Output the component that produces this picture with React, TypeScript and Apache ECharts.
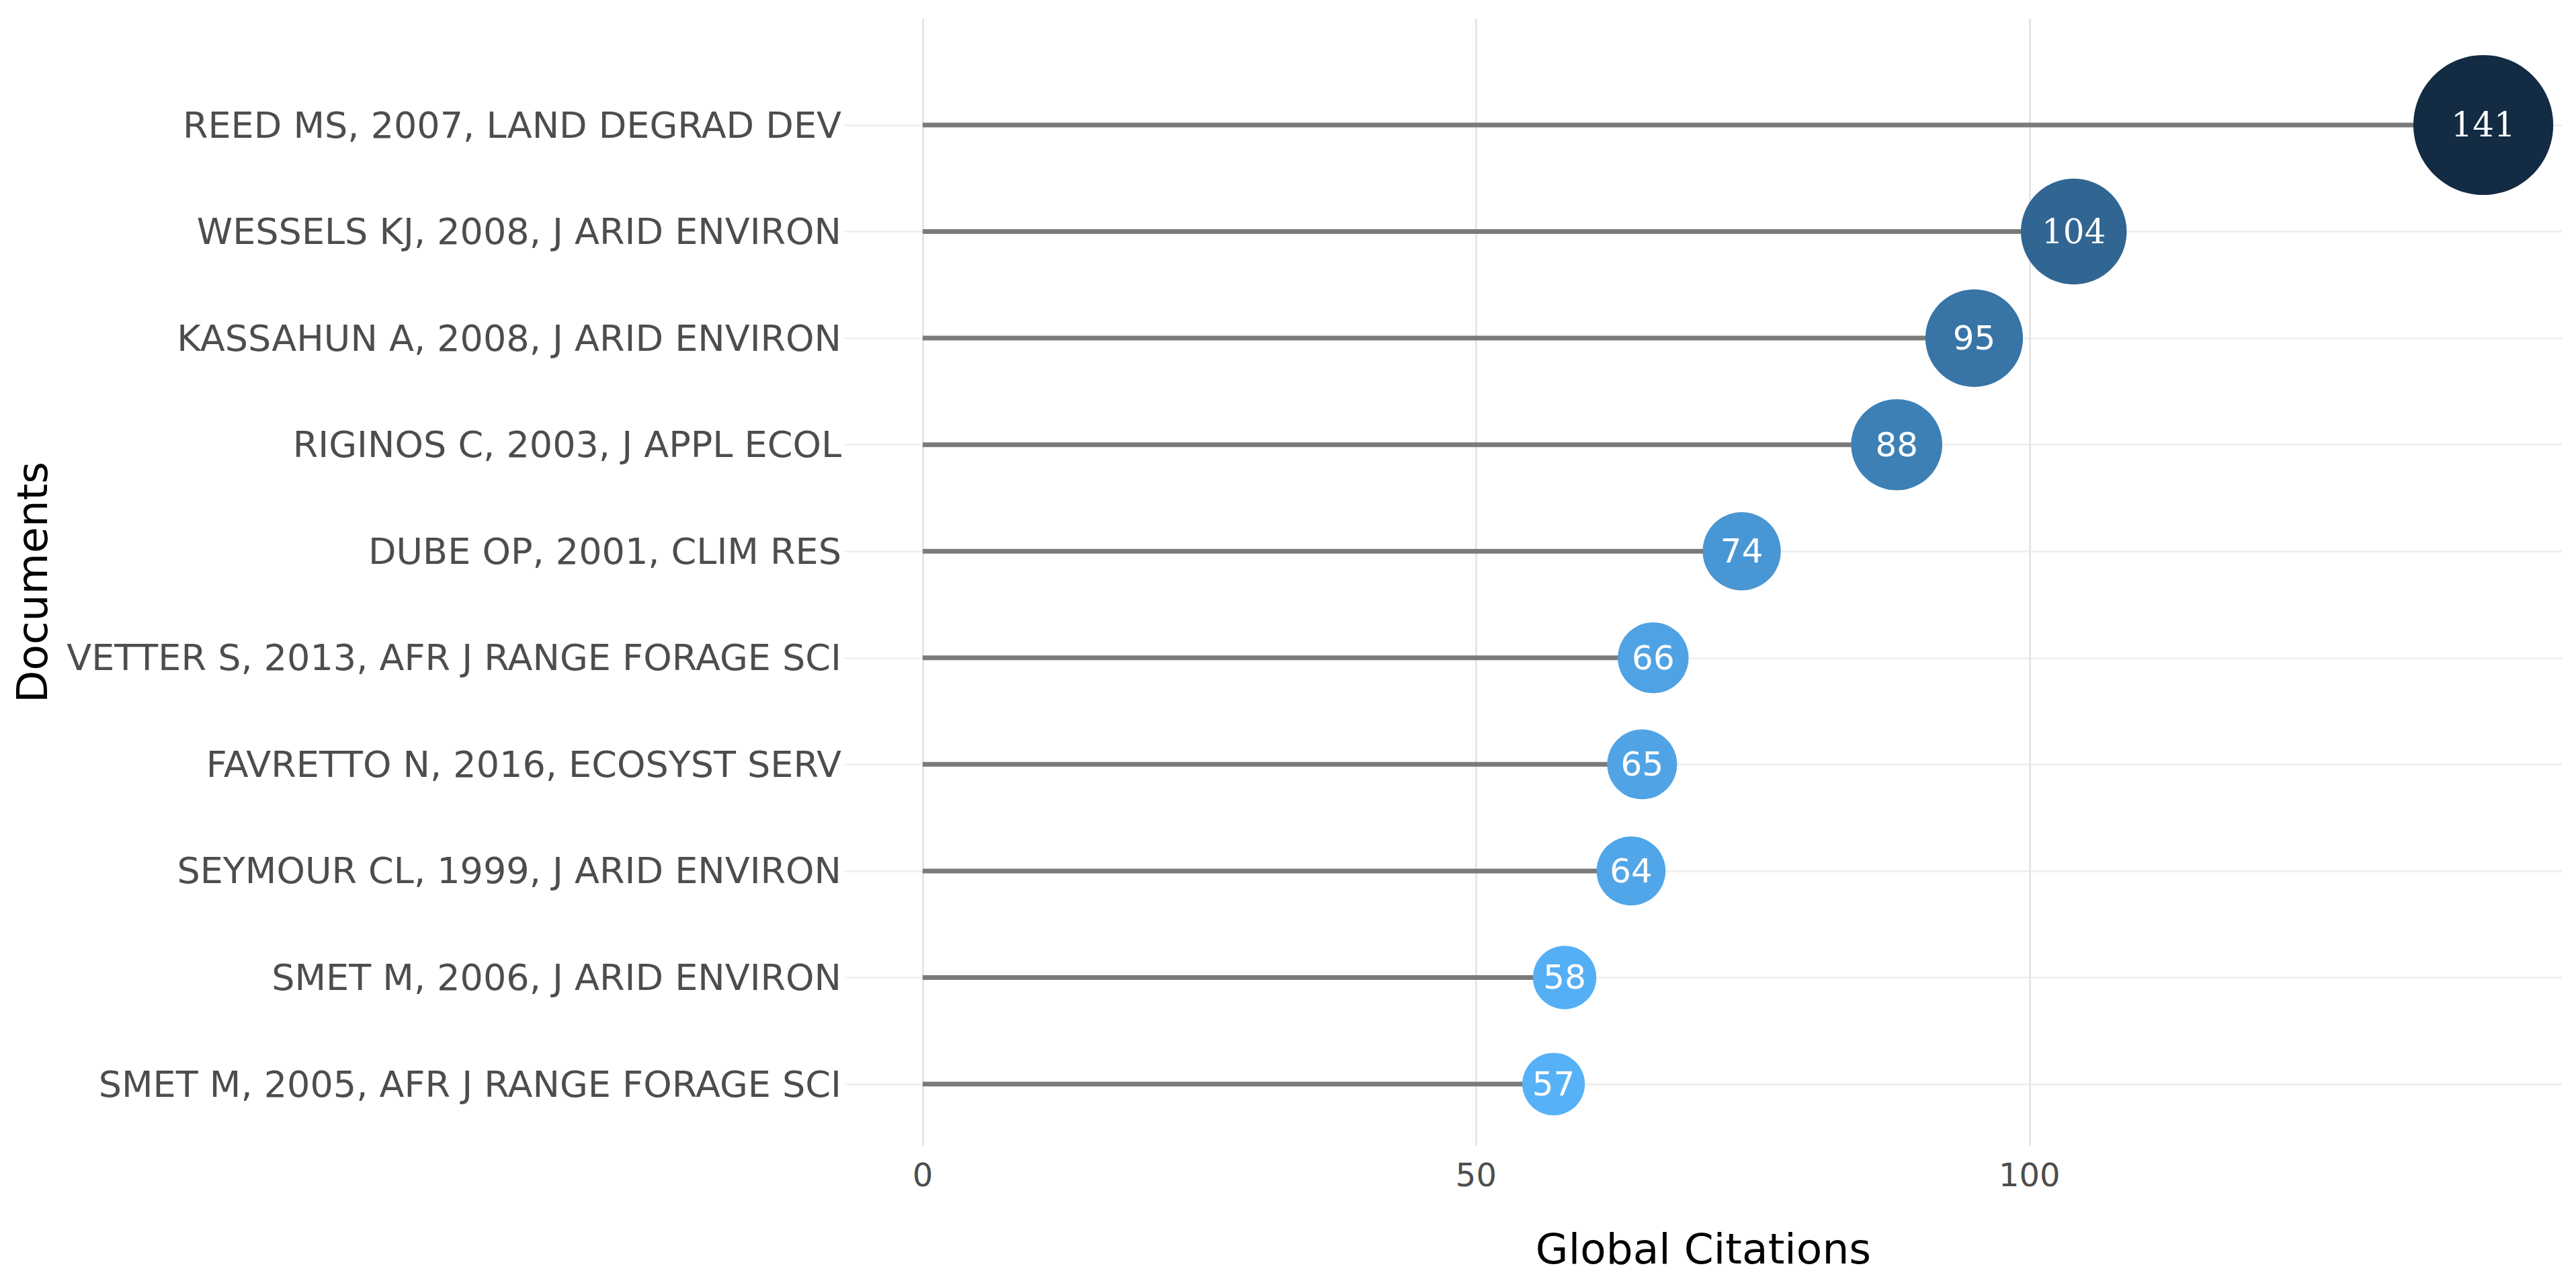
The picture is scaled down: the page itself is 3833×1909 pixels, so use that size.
import React, { useEffect, useRef } from "react";
import * as echarts from "echarts";

const documents: string[] = [
  "REED MS, 2007, LAND DEGRAD DEV",
  "WESSELS KJ, 2008, J ARID ENVIRON",
  "KASSAHUN A, 2008, J ARID ENVIRON",
  "RIGINOS C, 2003, J APPL ECOL",
  "DUBE OP, 2001, CLIM RES",
  "VETTER S, 2013, AFR J RANGE FORAGE SCI",
  "FAVRETTO N, 2016, ECOSYST SERV",
  "SEYMOUR CL, 1999, J ARID ENVIRON",
  "SMET M, 2006, J ARID ENVIRON",
  "SMET M, 2005, AFR J RANGE FORAGE SCI",
];
const citations: number[] = [141, 104, 95, 88, 74, 66, 65, 64, 58, 57];
const xTicks: number[] = [0, 50, 100];
const xTitle = "Global Citations";
const yTitle = "Documents";

const SANS = "DejaVu Sans";
const SERIF = "DejaVu Serif";

export default function App() {
  const ref = useRef<HTMLDivElement>(null);
  useEffect(() => {
    if (!ref.current) return;
    const chart = echarts.init(ref.current, null, { renderer: "svg" });
    const xMin = -7.04;
    const xMax = 148.1;
    const W = 3833;
    const H = 1909;
    const plotLeft = 1257;
    const plotRight = 3812;
    const plotTop = 28;
    const plotBottom = 1705;
    const rowTop = 186;
    const rowBottom = 1613;

    const scatterData = citations.map((v, i) => ({
      value: [v, documents[i]],
      label: { fontFamily: v >= 100 ? SERIF : SANS },
    }));

    chart.setOption({
      animation: false,
      backgroundColor: "#ffffff",
      textStyle: { fontFamily: SANS },
      grid: [
        { left: plotLeft, right: W - plotRight, top: plotTop, bottom: H - plotBottom, containLabel: false },
        { left: plotLeft, right: W - plotRight, top: rowTop, bottom: H - rowBottom, containLabel: false },
      ],
      xAxis: [
        {
          type: "value",
          gridIndex: 0,
          min: xMin,
          max: xMax,
          splitNumber: 3,
          axisLine: { show: false },
          axisTick: { show: false },
          axisLabel: {
            show: true,
            showMinLabel: false,
            showMaxLabel: false,
            margin: 19,
            fontSize: 48,
            color: "#4D4D4D",
            fontFamily: SANS,
            formatter: (v: number) => (xTicks.indexOf(v) >= 0 ? String(v) : ""),
          },
          splitLine: {
            show: true,
            showMinLine: false,
            showMaxLine: false,
            lineStyle: { color: "#E6E6E6", width: 3 },
          },
        },
        {
          type: "value",
          gridIndex: 1,
          min: xMin,
          max: xMax,
          show: false,
          splitLine: { show: false },
        },
      ],
      yAxis: [
        { type: "value", gridIndex: 0, show: false, splitLine: { show: false } },
        {
          type: "category",
          gridIndex: 1,
          data: documents,
          inverse: true,
          boundaryGap: false,
          axisLine: { show: false },
          axisTick: { show: false },
          axisLabel: {
            interval: 0,
            margin: 5,
            fontSize: 54,
            color: "#4D4D4D",
            fontFamily: SANS,
          },
          splitLine: {
            show: true,
            interval: 0,
            lineStyle: { color: "#EDEDED", width: 2.5 },
          },
        },
      ],
      visualMap: {
        type: "continuous",
        show: false,
        seriesIndex: 1,
        dimension: 0,
        min: Math.min(...citations),
        max: Math.max(...citations),
        inRange: { color: ["#56B1F7", "#132B43"] },
      },
      series: [
        {
          type: "bar",
          xAxisIndex: 1,
          yAxisIndex: 1,
          data: citations,
          barWidth: 7,
          itemStyle: { color: "#7A7A7A" },
          silent: true,
          z: 2,
        },
        {
          type: "scatter",
          xAxisIndex: 1,
          yAxisIndex: 1,
          data: scatterData,
          symbol: "circle",
          symbolSize: (val: any) => 15 + 1.37 * val[0],
          label: {
            show: true,
            position: "inside",
            color: "#ffffff",
            fontSize: 50,
            fontFamily: SANS,
            formatter: (p: any) => String(p.value[0]),
          },
          itemStyle: { opacity: 1 },
          z: 3,
        },
      ],
      graphic: [
        {
          type: "text",
          x: (plotLeft + plotRight) / 2,
          y: 1858,
          style: {
            text: xTitle,
            fontSize: 63,
            fontFamily: SANS,
            fill: "#000000",
            align: "center",
            verticalAlign: "middle",
          },
        },
        {
          type: "text",
          x: 48,
          y: (plotTop + plotBottom) / 2,
          rotation: Math.PI / 2,
          style: {
            text: yTitle,
            fontSize: 63,
            fontFamily: SANS,
            fill: "#000000",
            align: "center",
            verticalAlign: "middle",
          },
        },
      ],
    });
    return () => chart.dispose();
  }, []);
  return (
    <div
      ref={ref}
      style={{ position: "fixed", left: 0, top: 0, width: "3833px", height: "1909px" }}
    />
  );
}
